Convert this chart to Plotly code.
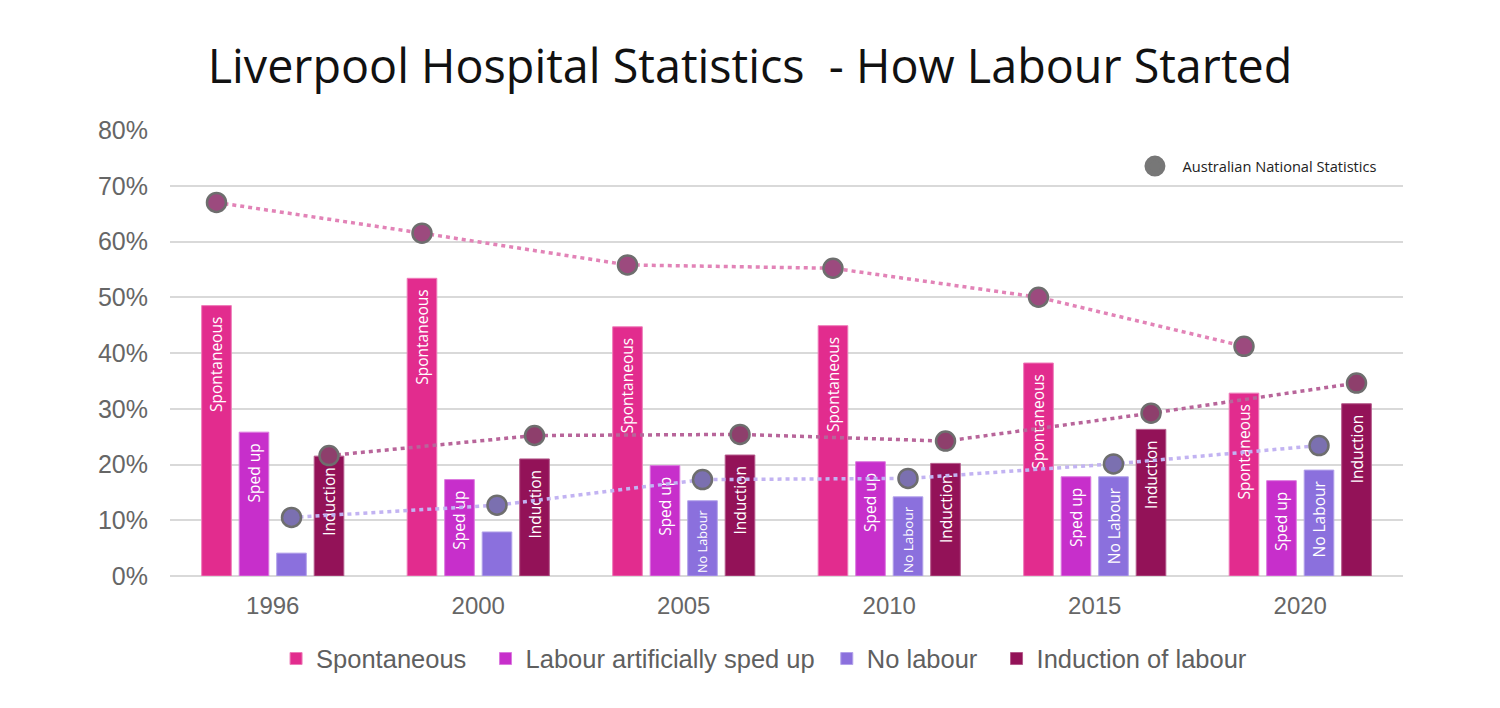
import plotly.graph_objects as go

# ---- data ----
years = ["1996", "2000", "2005", "2010", "2015", "2020"]
spontaneous = [48.5, 53.4, 44.7, 44.9, 38.2, 32.8]
sped_up = [25.8, 17.3, 19.8, 20.5, 17.8, 17.1]
no_labour = [4.1, 7.9, 13.5, 14.2, 17.8, 19.0]
induction = [21.5, 21.0, 21.7, 20.2, 26.3, 30.9]
nat_spontaneous = [67.0, 61.5, 55.8, 55.2, 50.0, 41.2]
nat_induction = [21.6, 25.2, 25.4, 24.2, 29.2, 34.6]
nat_no_labour = [10.5, 12.7, 17.3, 17.5, 20.1, 23.4]

series_names = ["Spontaneous", "Labour artificially sped up", "No labour", "Induction of labour"]
bar_labels = [
    ["Spontaneous"] * 6,
    ["Sped up"] * 6,
    ["", "", "No Labour", "No Labour", "No Labour", "No Labour"],
    ["Induction"] * 6,
]

colors = ["#E22C8E", "#C72FCB", "#8B70DD", "#931258"]
edge_colors = ["#EE7CB9", "#DC7ADF", "#B3A2EA", "#B45A8B"]
legend_pad = [2, 1, 2, 0]

BARGAP = 0.27
N_SERIES = 4
slot = (1 - BARGAP) / N_SERIES


def offset(k):
    return (k - (N_SERIES - 1) / 2) * slot


NBSP = "\u00a0"
idx = list(range(len(years)))
fig = go.Figure()

bar_values = [spontaneous, sped_up, no_labour, induction]
for k, (name, vals) in enumerate(zip(series_names, bar_values)):
    fig.add_trace(go.Bar(
        x=idx, y=vals, name=name + NBSP * legend_pad[k],
        marker=dict(color=colors[k], line=dict(color=edge_colors[k], width=1)),
        text=[t + NBSP * 2 if t else "" for t in bar_labels[k]],
        textposition="inside", insidetextanchor="end", textangle=-90,
        textfont=dict(family="Open Sans", size=15.5, color="white"),
        cliponaxis=False, legend="legend", hoverinfo="skip",
    ))

nat_series = [
    (0, nat_spontaneous, "#E283B7", "#9C4A7E"),
    (3, nat_induction, "#B8659A", "#8E3F6C"),
    (2, nat_no_labour, "#C2B3F2", "#7B70B0"),
]
for k, vals, lcol, mcol in nat_series:
    fig.add_trace(go.Scatter(
        x=[i + offset(k) for i in idx], y=vals, mode="lines+markers",
        line=dict(color=lcol, width=3.5, dash="4px,4px"),
        marker=dict(size=19, color=mcol, line=dict(color="#6E6E6E", width=2.5)),
        showlegend=False, hoverinfo="skip",
    ))

# legend entry for national statistics
fig.add_trace(go.Scatter(
    x=[None], y=[None], mode="markers", name=NBSP * 2 + "Australian National Statistics",
    marker=dict(size=16, color="#777777", line=dict(color="#777777", width=5)),
    legend="legend2",
))

fig.update_layout(
    width=1500, height=708,
    paper_bgcolor="white", plot_bgcolor="white",
    margin=dict(l=162, r=105, t=122, b=140),
    barmode="group", bargap=BARGAP, bargroupgap=0.21,
    title=dict(
        text="Liverpool Hospital Statistics &nbsp;- How Labour Started",
        font=dict(family="Open Sans", size=46.7, color="#111111"),
        x=742 / 1500, xref="container", xanchor="center",
        y=1 - 59 / 708, yref="container", yanchor="middle",
    ),
    xaxis=dict(
        range=[-0.5, len(years) - 0.5], tickvals=idx, ticktext=years,
        showgrid=False, zeroline=False, showline=False, ticks="",
        tickfont=dict(family="Liberation Sans, Arial", size=24, color="#666666"),
        ticklabelstandoff=13,
    ),
    yaxis=dict(
        range=[0, 80], dtick=10, ticksuffix="%",
        showgrid=True, gridcolor="#D9D9D9", gridwidth=2,
        zeroline=True, zerolinecolor="#D9D9D9", zerolinewidth=2,
        showline=False, ticks="",
        tickfont=dict(family="Liberation Sans, Arial", size=25, color="#666666"),
        ticklabelstandoff=21,
    ),
    legend=dict(
        orientation="h", x=0.4818, xanchor="center", y=-0.186, yanchor="middle",
        font=dict(family="Liberation Sans, Arial", size=25.5, color="#5F5F5F"),
        traceorder="normal", bgcolor="rgba(0,0,0,0)",
    ),
    legend2=dict(
        x=0.7826, xanchor="left", y=0.919, yanchor="middle",
        font=dict(family="Open Sans", size=14.6, color="#222222"),
        bgcolor="rgba(0,0,0,0)",
    ),
)

fig.write_html("out.html")
